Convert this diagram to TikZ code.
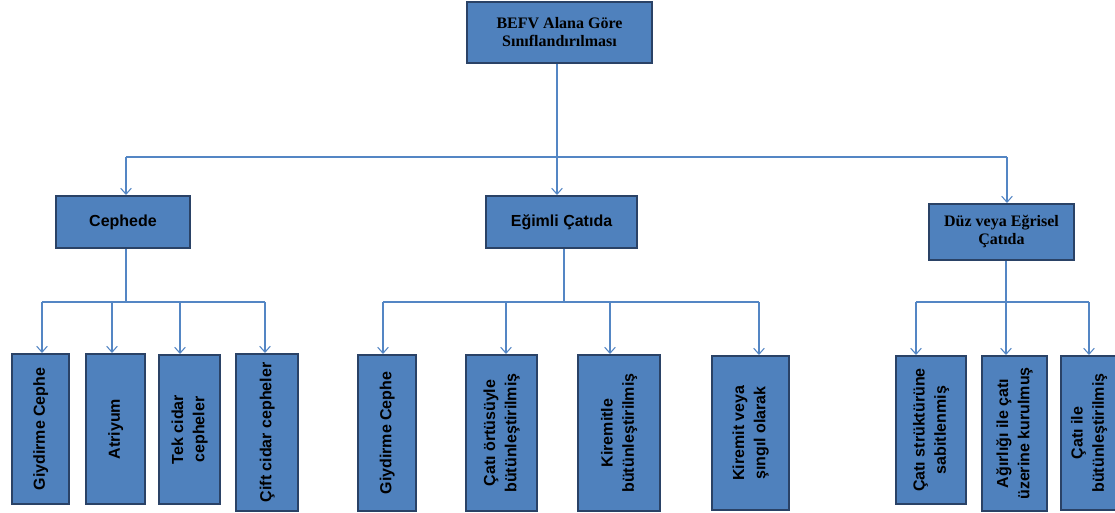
\documentclass[tikz,border=0pt]{standalone}
\usepackage{fontspec}
\setmainfont{Liberation Serif}
\setsansfont{Liberation Sans}
\usepackage{tikz}
\usetikzlibrary{arrows.meta}

\definecolor{boxfill}{RGB}{79,129,189}
\definecolor{boxline}{RGB}{42,66,102}
\definecolor{wirecol}{RGB}{84,134,196}

% vertical text inside the lower boxes
\newcommand{\vlabel}[1]{\rotatebox{90}{\begin{tabular}{@{}c@{}}#1\end{tabular}}}

\begin{document}
\begin{tikzpicture}[x=0.75pt, y=-0.75pt,
    box/.style 2 args={draw=boxline, line width=1.5pt, fill=boxfill, inner sep=0pt,
        minimum width=#1*0.75pt, minimum height=#2*0.75pt},
    serifbox/.style={font=\rmfamily\bfseries\fontsize{12}{13.5}\selectfont, align=center},
    sansbox/.style={font=\sffamily\bfseries\fontsize{12}{14}\selectfont},
    leafbox/.style={font=\sffamily\bfseries\fontsize{12}{16}\selectfont},
    wire/.style={draw=wirecol, line width=0.8pt},
    feed/.style={wire, -{Straight Barb[length=4.5pt, width=8pt]}}]

    \useasboundingbox (0,0) rectangle (1115,512);

    % Root
    \node[box={185}{61}, serifbox] (root) at (559.5,32.5) {BEFV Alana Göre\\Sınıflandırılması};

    % Second level
    \node[box={134}{52}, sansbox] (cephede) at (123,222) {Cephede};
    \node[box={151}{52}, sansbox] (egimli) at (561.5,222) {Eğimli Çatıda};
    \node[box={145}{56}, serifbox] (duz) at (1001.5,232) {Düz veya Eğrisel\\Çatıda};

    % Leaves under Cephede
    \node[box={57}{150}, leafbox] (a1) at (40.5,429) {\vlabel{Giydirme Cephe}};
    \node[box={59}{150}, leafbox] (a2) at (115.5,429) {\vlabel{Atriyum}};
    \node[box={61}{149}, leafbox] (a3) at (189.5,429.5) {\vlabel{Tek cidar\\cepheler}};
    \node[box={62}{157}, leafbox] (a4) at (267,432.5) {\vlabel{Çift cidar cepheler}};

    % Leaves under Eğimli Çatıda
    \node[box={58}{156}, leafbox] (b1) at (387,433) {\vlabel{Giydirme Cephe}};
    \node[box={71}{156}, leafbox] (b2) at (501.5,433) {\vlabel{Çatı örtüsüyle\\bütünleştirilmiş}};
    \node[box={82}{156}, leafbox] (b3) at (619,433) {\vlabel{Kiremitle\\bütünleştirilmiş}};
    \node[box={77}{154}, leafbox] (b4) at (750.5,433) {\vlabel{Kiremit veya\\şıngıl olarak}};

    % Leaves under Düz veya Eğrisel Çatıda
    \node[box={70}{148}, leafbox] (c1) at (931,430) {\vlabel{Çatı strüktürüne\\sabitlenmiş}};
    \node[box={65}{155}, leafbox] (c2) at (1014.5,433.5) {\vlabel{Ağırlığı ile çatı\\üzerine kurulmuş}};
    \node[box={56}{154}, leafbox] (c3) at (1089,433) {\vlabel{Çatı ile\\bütünleştirilmiş}};

    % Connectors
    \coordinate (topbus) at (0,157);
    \coordinate (lowbus) at (0,302);

    % where the lines leave and enter the boxes
    \foreach \n/\dx in {cephede/3, egimli/-4.5, duz/5.5}
        \coordinate (\n-in) at ([xshift=\dx*0.75pt]\n.north |- topbus);
    \foreach \n/\dx in {cephede/3, egimli/2.5, duz/4.5}
        \coordinate (\n-out) at ([xshift=\dx*0.75pt]\n.south);
    \foreach \n/\dx in {a1/1.5, a2/-3.5, a3/-9.5, a4/-2, b1/-4, b2/4.5, b3/-9, b4/8.5,
            c1/-15, c2/-8.5, c3/0}
        \coordinate (\n-in) at ([xshift=\dx*0.75pt]\n.north |- lowbus);

    \draw[wire] ([xshift=-2.5*0.75pt]root.south) -- ([xshift=-2.5*0.75pt]root.south |- topbus);
    \draw[wire] (cephede-in) -- (duz-in);
    \foreach \n in {cephede,egimli,duz}
        \draw[feed] (\n-in) -- (\n-in |- \n.north);

    \foreach \g/\first/\last in {cephede/a1/a4, egimli/b1/b4, duz/c1/c3} {
        \draw[wire] (\g-out) -- (\g-out |- lowbus);
        \draw[wire] (\first-in) -- (\last-in);
    }
    \foreach \n in {a1,a2,a3,a4,b1,b2,b3,b4,c1,c2,c3}
        \draw[feed] (\n-in) -- (\n-in |- \n.north);
\end{tikzpicture}
\end{document}
